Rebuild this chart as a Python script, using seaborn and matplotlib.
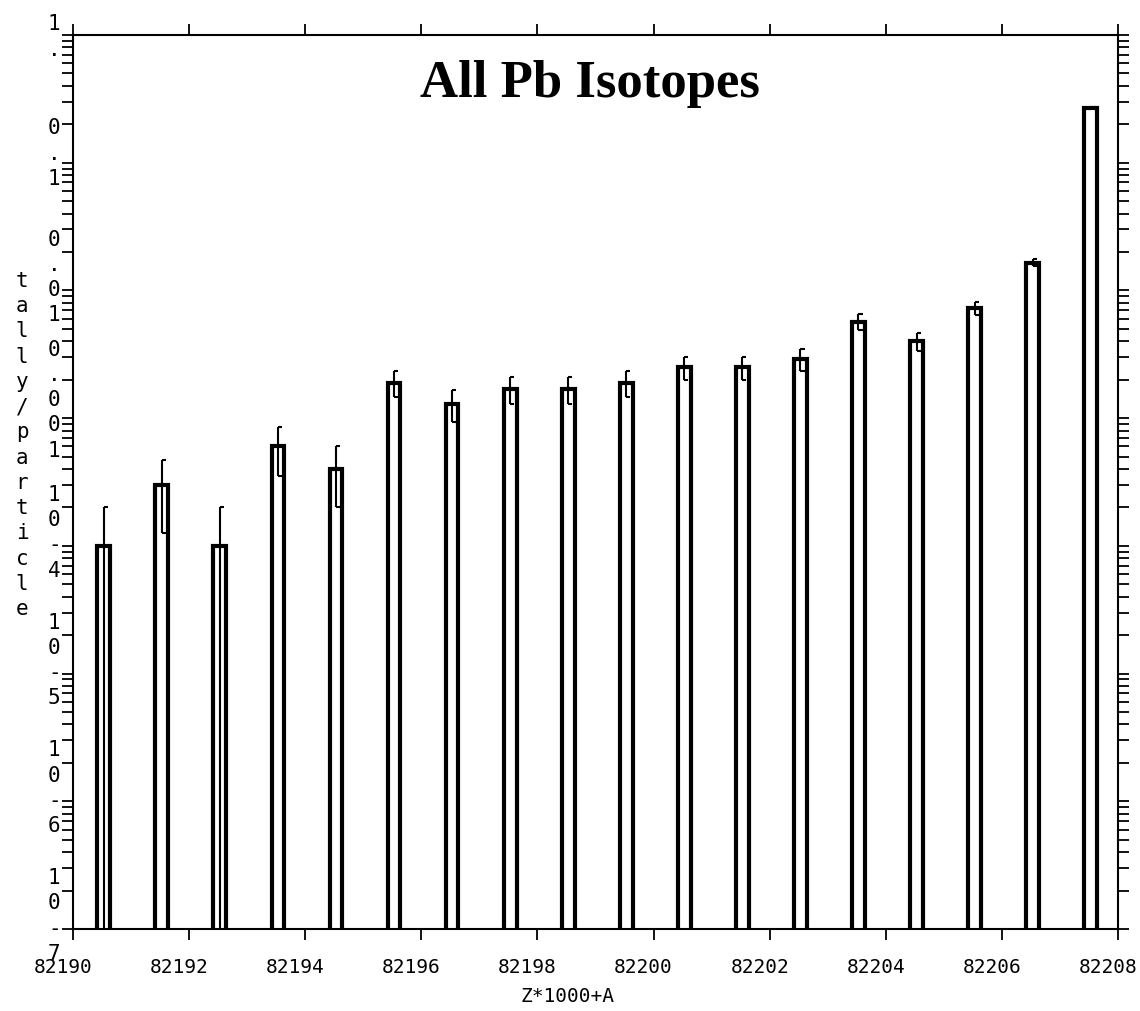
import numpy as np
import pandas as pd
import matplotlib
matplotlib.use("Agg")
import matplotlib.pyplot as plt
import matplotlib.transforms as mtransforms
from matplotlib.ticker import FixedLocator, LogLocator, NullFormatter, NullLocator
import seaborn as sns

# Z*1000+A of each lead isotope bin
za = [82190, 82191, 82192, 82193, 82194, 82195, 82196, 82197, 82198,
      82199, 82200, 82201, 82202, 82203, 82204, 82205, 82206, 82207]
# tally per source particle
tally = [1.0e-4, 3.0e-4, 1.0e-4, 6.0e-4, 4.0e-4, 1.9e-3, 1.3e-3, 1.7e-3, 1.7e-3,
         1.9e-3, 2.5e-3, 2.5e-3, 2.9e-3, 5.7e-3, 4.0e-3, 7.3e-3, 1.65e-2, 0.27]
# relative statistical error of each tally
rel_err = [1.0, 0.58, 1.0, 0.41, 0.5, 0.23, 0.28, 0.24, 0.24,
           0.23, 0.2, 0.2, 0.19, 0.14, 0.16, 0.12, 0.065, 0.015]

x_ticks = [82190, 82192, 82194, 82196, 82198, 82200, 82202, 82204, 82206, 82208]
y_decades = [1e0, 1e-1, 1e-2, 1e-3, 1e-4, 1e-5, 1e-6, 1e-7]
y_labels = ["1\n.", "0\n.\n1", "0\n.\n0\n1", "0\n.\n0\n0\n1",
            "1\n0\n-\n4", "1\n0\n-\n5", "1\n0\n-\n6", "1\n0\n-\n7"]
y_label_shift_px = [-2, 9, 13, 18, 13, 13, 13, 13]

MONO = ["DejaVu Sans Mono"]
W, H, DPI = 1140, 1011, 100

bin_offset = 0.53
df = pd.DataFrame({"pos": np.array(za, dtype=float) + bin_offset,
                   "tally": tally, "rel": rel_err})

fig = plt.figure(figsize=(W / DPI, H / DPI), dpi=DPI)
fig.patch.set_facecolor("white")
ax = fig.add_axes([73 / W, 1 - 929 / H, 1045 / W, 894 / H])
ax.set_yscale("log")

sns.barplot(data=df, x="pos", y="tally", native_scale=True, width=0.22,
            color="white", edgecolor="black", linewidth=3.0, saturation=1,
            errorbar=None, ax=ax, zorder=2)

# error bars: vertical line with short caps pointing right
hi = df["tally"] * (1 + df["rel"])
lo = df["tally"] * (1 - df["rel"])
lo_draw = lo.where(lo > 0, 1e-9)
ax.vlines(df["pos"], lo_draw, hi, color="black", lw=1.5, zorder=3)
ax.hlines(hi, df["pos"], df["pos"] + 0.07, color="black", lw=1.5, zorder=3)
has_lo = lo > 0
ax.hlines(lo[has_lo], df["pos"][has_lo], df["pos"][has_lo] + 0.07,
          color="black", lw=1.5, zorder=3)

ax.set_xlim(82190, 82208)
ax.set_ylim(1e-7, 1)

for s in ax.spines.values():
    s.set_linewidth(1.5)
    s.set_color("black")

ax.xaxis.set_major_locator(FixedLocator(x_ticks))
ax.xaxis.set_minor_locator(NullLocator())
ax.yaxis.set_major_locator(FixedLocator(y_decades))
ax.yaxis.set_minor_locator(LogLocator(base=10, subs=np.arange(2, 10), numticks=100))
ax.yaxis.set_minor_formatter(NullFormatter())

ax.tick_params(axis="both", which="both", direction="out", top=True, right=True,
               length=8, width=1.3, color="black")
ax.tick_params(axis="x", pad=13)
ax.tick_params(axis="y", pad=1)

ax.set_xticklabels([str(t) for t in x_ticks], fontfamily=MONO, fontsize=14)
ax.set_yticklabels(y_labels, fontfamily=MONO, fontsize=15, linespacing=1.33)
ax.set_xlabel("")
ax.set_ylabel("")

for lbl in ax.get_xticklabels():
    lbl.set_transform(lbl.get_transform() +
                      mtransforms.ScaledTranslation(-10 / DPI, 0, fig.dpi_scale_trans))
for lbl, sh in zip(ax.get_yticklabels(), y_label_shift_px):
    lbl.set_verticalalignment("center")
    lbl.set_horizontalalignment("right")
    lbl.set_multialignment("center")
    lbl.set_transform(lbl.get_transform() +
                      mtransforms.ScaledTranslation(0, sh / DPI, fig.dpi_scale_trans))

ax.text(0.4947, 0.9306, "All Pb Isotopes", transform=ax.transAxes,
        ha="center", va="baseline", fontfamily=["Liberation Serif"],
        fontweight="bold", fontsize=38)

fig.text(567 / W, 1 - 997 / H, "Z*1000+A", ha="center", va="center",
         fontfamily=MONO, fontsize=14)
fig.text(22 / W, 1 - 445 / H, "\n".join("tally/particle"), ha="center",
         va="center", multialignment="center", fontfamily=MONO, fontsize=15,
         linespacing=1.33)

fig.savefig("out.png", dpi=DPI, facecolor="white")
